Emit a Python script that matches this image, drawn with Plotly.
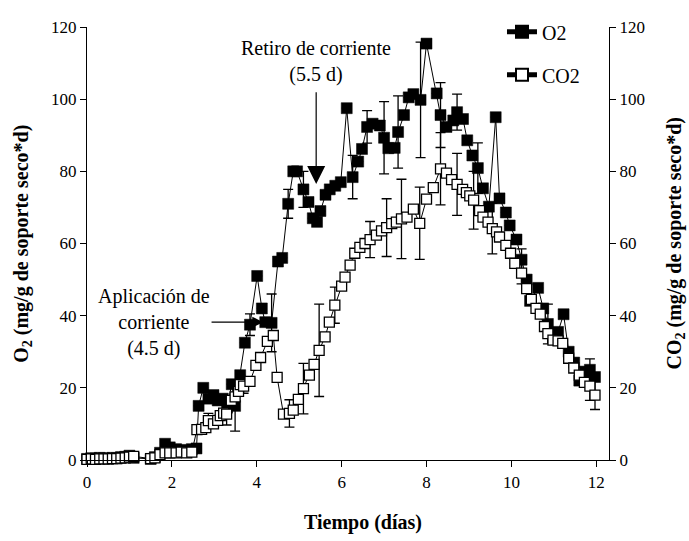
import plotly.graph_objects as go

# ---------------- data ----------------
o2_x = [0.00, 0.10, 0.20, 0.30, 0.40, 0.50, 0.60, 0.70, 0.80, 0.90, 1.00, 1.10,
        1.50, 1.60, 1.72, 1.84, 1.95, 2.10, 2.22, 2.35, 2.47, 2.58,
        2.63, 2.74, 2.86, 2.98, 3.08, 3.20, 3.30, 3.41, 3.49, 3.61, 3.72, 3.84,
        4.01, 4.12, 4.20, 4.35, 4.50, 4.60, 4.74, 4.86, 4.95, 5.10, 5.22, 5.32,
        5.42, 5.50, 5.62, 5.72, 5.85, 5.98, 6.12, 6.26, 6.39, 6.48, 6.60, 6.73,
        6.90, 7.00, 7.10, 7.25, 7.33, 7.47, 7.58, 7.69, 7.86, 8.00, 8.24, 8.33,
        8.47, 8.63, 8.72, 8.86, 8.96, 9.08, 9.21, 9.33, 9.47, 9.63, 9.72, 9.87,
        9.96, 10.12, 10.24, 10.36, 10.44, 10.63, 10.75, 10.86, 10.98, 11.10,
        11.23, 11.35, 11.48, 11.60, 11.73, 11.85, 11.97]
o2_y = [0.3, 0.5, 0.4, 0.6, 0.5, 0.4, 0.6, 0.5, 0.8, 0.9, 1.2, 0.6,
        0.3, 0.8, 2.0, 4.5, 3.5, 3.0, 2.8, 2.5, 3.0, 3.2,
        15.0, 20.0, 17.0, 18.0, 16.5, 17.0, 14.5, 21.0, 15.0, 23.5, 32.5, 37.5,
        51.0, 42.0, 38.2, 38.0, 55.0, 56.0, 71.0, 80.0, 80.0, 75.0, 71.5, 67.0,
        66.0, 69.0, 73.5, 75.0, 76.0, 77.0, 97.5, 78.4, 82.7, 86.2, 92.3, 93.2,
        92.7, 89.3, 86.4, 86.5, 90.9, 95.6, 100.5, 101.4, 99.8, 115.4, 101.6, 95.6,
        92.3, 94.1, 96.4, 94.5, 88.6, 84.4, 80.9, 75.3, 70.2, 95.0, 72.5, 68.6,
        65.0, 61.1, 55.5, 50.0, 44.1, 47.7, 42.0, 37.7, 34.0, 35.5,
        40.4, 30.0, 27.0, 22.0, 24.5, 25.0, 23.0]
o2_err = [None] * len(o2_y)
for _x, _e in [(3.49, 7), (3.84, 3), (4.35, 8), (4.74, 4), (5.10, 5), (6.26, 6),
               (6.60, 4.5), (7.00, 10), (7.33, 10), (7.86, 16), (8.33, 9),
               (8.72, 5), (9.21, 7), (10.24, 3), (10.86, 5.5), (11.85, 3)]:
    o2_err[o2_x.index(_x)] = _e

co2_x = [0.00, 0.10, 0.20, 0.30, 0.40, 0.50, 0.60, 0.70, 0.80, 0.90, 1.00, 1.10,
         1.50, 1.60, 1.72, 1.84, 1.95, 2.10, 2.22, 2.35, 2.47,
         2.59, 2.70, 2.80, 2.86, 2.98, 3.08, 3.14, 3.22, 3.29, 3.40, 3.49, 3.57,
         3.61, 3.69, 3.84, 3.98, 4.09, 4.25, 4.39, 4.48, 4.63, 4.77, 4.86, 4.98,
         5.10, 5.24, 5.35, 5.47, 5.61, 5.71, 5.84, 6.00, 6.08, 6.20, 6.31, 6.43,
         6.55, 6.67, 6.82, 6.94, 7.06, 7.18, 7.29, 7.41, 7.54, 7.69, 7.84, 8.00,
         8.16, 8.33, 8.47, 8.59, 8.72, 8.85, 8.94, 9.02, 9.11, 9.25, 9.33, 9.45,
         9.55, 9.65, 9.72, 9.87, 9.98, 10.08, 10.24, 10.36, 10.47, 10.58, 10.68,
         10.78, 10.86, 10.98, 11.10, 11.21, 11.35, 11.47, 11.60, 11.72, 11.85,
         11.97]
co2_y = [0.2, 0.3, 0.2, 0.3, 0.3, 0.3, 0.4, 0.4, 0.5, 0.6, 0.8, 1.0,
         0.4, 0.6, 1.5, 2.0, 2.0, 2.0, 2.2, 2.0, 2.2,
         8.4, 8.5, 9.0, 10.9, 10.0, 11.0, 12.3, 13.0, 12.7, 16.5, 17.5, 19.0,
         20.9, 20.5, 21.8, 26.2, 28.4, 32.9, 34.5, 22.9, 12.7, 12.9, 13.8, 16.8,
         19.8, 23.5, 26.5, 30.4, 34.1, 38.2, 42.9, 48.2, 50.7, 54.0, 57.3, 58.9,
         60.0, 61.1, 62.3, 63.5, 64.4, 65.5, 65.9, 66.8, 67.3, 69.5, 65.6, 72.3,
         75.5, 80.7, 79.5, 77.7, 76.4, 75.0, 74.1, 73.2, 72.0, 69.1, 67.3, 65.9,
         64.1, 63.2, 61.8, 59.5, 57.3, 54.5, 51.8, 47.5, 44.5, 42.0, 40.4,
         37.0, 35.0, 33.2, 33.0, 32.3, 28.2, 25.5, 23.5, 21.5, 20.5,
         18.0]
co2_err = [None] * len(co2_y)
for _x, _e in [(2.86, 2), (3.29, 3), (3.69, 2), (4.77, 3.8), (5.10, 7),
               (5.47, 12.8), (5.84, 5), (6.67, 5), (7.06, 8), (7.41, 11),
               (7.84, 10), (8.33, 10), (8.72, 8.6), (9.11, 8), (9.55, 7),
               (10.24, 3), (10.98, 1), (11.85, 4), (11.97, 4)]:
    co2_err[co2_x.index(_x)] = _e

x_ticks = [0, 2, 4, 6, 8, 10, 12]
y_ticks = [0, 20, 40, 60, 80, 100, 120]

FONT = "Liberation Serif"

fig = go.Figure()

fig.add_trace(go.Scatter(
    x=o2_x, y=o2_y, name="O2", mode="lines+markers",
    line=dict(color="black", width=1),
    marker=dict(symbol="square", size=11, color="black",
                line=dict(color="black", width=0.5)),
    error_y=dict(type="data", array=o2_err, color="black", thickness=1.3, width=5),
    cliponaxis=False, legendrank=1, legendgroup="a",
))
fig.add_trace(go.Scatter(
    x=co2_x, y=co2_y, name="CO2", mode="lines+markers", yaxis="y2",
    line=dict(color="black", width=1),
    marker=dict(symbol="square", size=10, color="white",
                line=dict(color="black", width=1.3)),
    error_y=dict(type="data", array=co2_err, color="black", thickness=1.3, width=5),
    cliponaxis=False, legendrank=2, legendgroup="b",
))

axis_common = dict(showgrid=False, zeroline=False, showline=True,
                   linecolor="black", linewidth=1.2, ticks="outside",
                   tickcolor="black", ticklen=6, tickwidth=1.2,
                   tickfont=dict(family=FONT, size=17, color="black"))

fig.update_layout(
    width=689, height=541,
    margin=dict(l=87, r=80, t=20, b=81),
    paper_bgcolor="white", plot_bgcolor="white",
    font=dict(family=FONT, size=17, color="black"),
    xaxis=dict(range=[0, 12.3], tickvals=x_ticks, **axis_common),
    yaxis=dict(range=[0, 120], tickvals=y_ticks, **axis_common),
    yaxis2=dict(range=[0, 120], tickvals=y_ticks, overlaying="y", side="right",
                **axis_common),
    showlegend=True,
    legend=dict(x=0.795, y=1.034, xanchor="left", yanchor="top",
                font=dict(family=FONT, size=20, color="black"),
                bgcolor="rgba(0,0,0,0)", tracegroupgap=14,
                itemsizing="constant"),
)

ann_font = dict(family=FONT, size=20, color="black")
title_font = dict(family=FONT, size=20, color="black")

# "Retiro de corriente" label with its downward arrow
fig.add_annotation(x=5.4, y=76.5, xref="x", yref="y", ax=5.4, ay=110.5,
                   axref="x", ayref="y", text="Retiro de corriente<br>(5.5 d)",
                   showarrow=True, arrowhead=2, arrowsize=3, arrowwidth=1.2,
                   arrowcolor="black", startstandoff=5, font=ann_font, align="center")
# "Aplicación de corriente" label with its rightward arrow
fig.add_annotation(x=4.15, y=38.2, xref="x", yref="y", ax=1.58, ay=38.2,
                   axref="x", ayref="y", text="Aplicación de<br>corriente<br>(4.5 d)",
                   showarrow=True, arrowhead=2, arrowsize=1.8, arrowwidth=1.2,
                   arrowcolor="black", font=ann_font, align="center")

fig.add_annotation(x=-0.124, y=0.5, xref="paper", yref="paper", textangle=-90,
                   xanchor="center", yanchor="middle",
                   text="<b>O<sub>2</sub> (mg/g de soporte seco*d)</b>",
                   showarrow=False, font=title_font)
fig.add_annotation(x=1.1265, y=0.5, xref="paper", yref="paper", textangle=-90,
                   xanchor="center", yanchor="middle",
                   text="<b>CO<sub>2</sub> (mg/g de soporte seco*d)</b>",
                   showarrow=False, font=title_font)
fig.add_annotation(x=0.529, y=-0.145, xref="paper", yref="paper",
                   xanchor="center", yanchor="middle",
                   text="<b>Tiempo (días)</b>", showarrow=False, font=title_font)

fig.write_html("out.html")
